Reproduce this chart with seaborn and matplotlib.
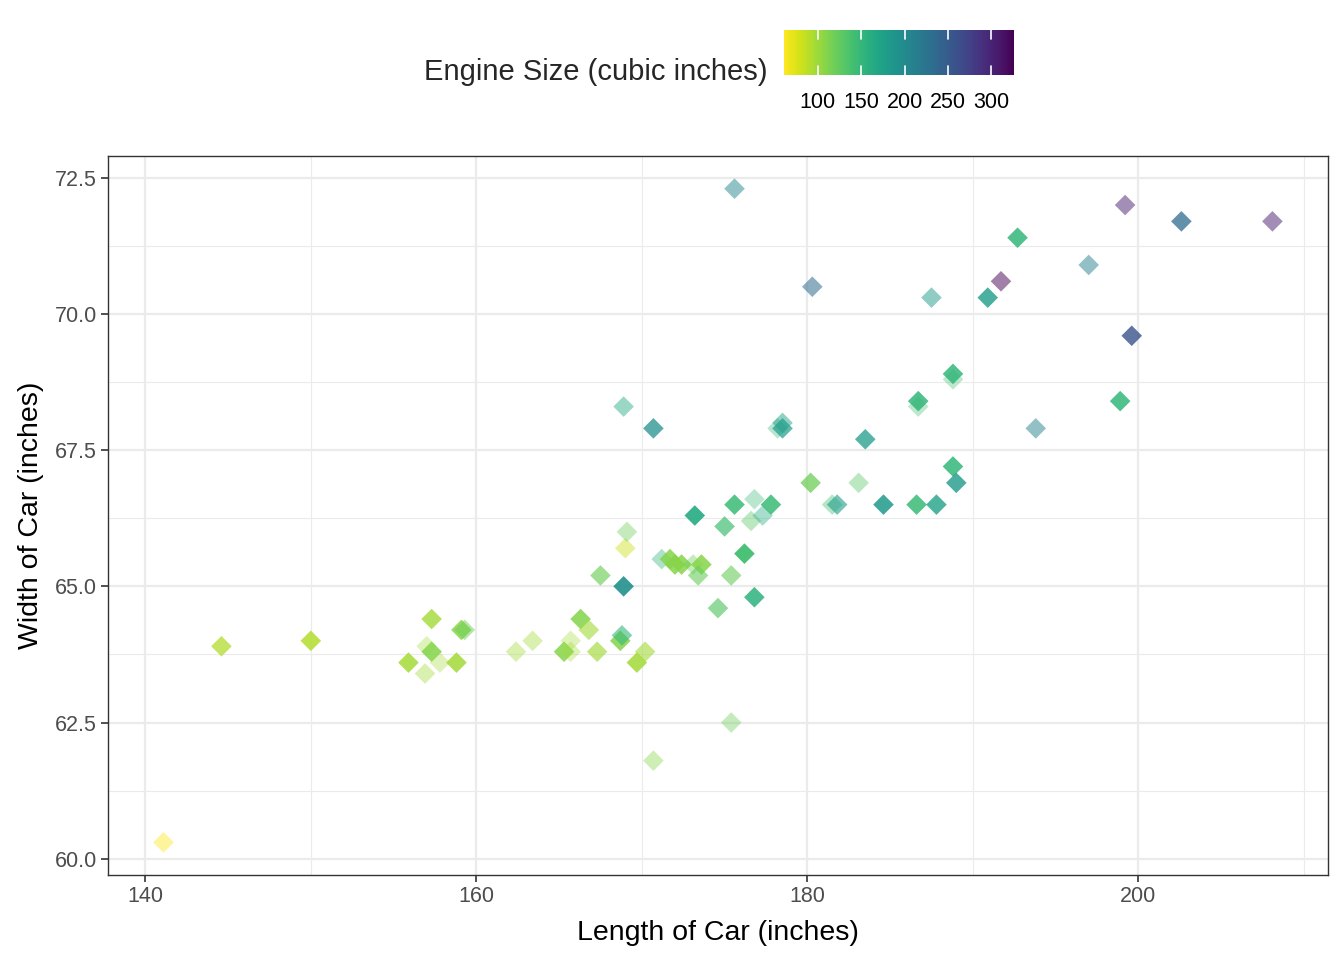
import numpy as np
import pandas as pd
import matplotlib
matplotlib.use("Agg")
import matplotlib.pyplot as plt
import seaborn as sns
from matplotlib.colors import Normalize
from matplotlib.cm import ScalarMappable

# values
length = [141.1, 144.6, 150.0, 155.9, 156.9, 157.0, 157.3, 157.3, 157.8, 158.8,
          159.1, 159.3, 162.4, 163.4, 165.3, 165.7, 165.7, 166.3, 166.8, 167.3,
          167.5, 168.7, 168.8, 168.9, 168.9, 169.0, 169.1, 169.7, 170.2, 170.7,
          170.7, 171.2, 171.7, 172.0, 172.4, 173.1, 173.6, 173.2, 173.4, 174.6,
          175.0, 175.4, 175.4, 175.6, 175.6, 176.2, 176.6, 176.8, 176.8, 177.3,
          177.8, 178.2, 178.5, 178.5, 180.2, 180.3, 181.5, 181.8, 183.1, 183.5,
          184.6, 186.6, 186.7, 186.7, 187.5, 187.8, 188.8, 188.8, 188.8, 189.0,
          190.9, 191.7, 192.7, 193.8, 197.0, 198.9, 199.2, 199.6, 202.6, 208.1]
width = [60.3, 63.9, 64.0, 63.6, 63.4, 63.9, 64.4, 63.8, 63.6, 63.6,
         64.2, 64.2, 63.8, 64.0, 63.8, 64.0, 63.8, 64.4, 64.2, 63.8,
         65.2, 64.0, 64.1, 65.0, 68.3, 65.7, 66.0, 63.6, 63.8, 67.9,
         61.8, 65.5, 65.5, 65.4, 65.4, 65.4, 65.4, 66.3, 65.2, 64.6,
         66.1, 65.2, 62.5, 72.3, 66.5, 65.6, 66.2, 66.6, 64.8, 66.3,
         66.5, 67.9, 68.0, 67.9, 66.9, 70.5, 66.5, 66.5, 66.9, 67.7,
         66.5, 66.5, 68.3, 68.4, 70.3, 66.5, 68.8, 68.9, 67.2, 66.9,
         70.3, 70.6, 71.4, 67.9, 70.9, 68.4, 72.0, 69.6, 71.7, 71.7]
engine = [61, 92, 92, 97, 98, 98, 98, 110, 98, 98,
          108, 120, 98, 98, 109, 98, 98, 110, 98, 98,
          120, 110, 150, 194, 167, 80, 120, 98, 98, 193,
          108, 152, 109, 109, 109, 120, 109, 164, 122, 130,
          141, 122, 120, 203, 146, 141, 130, 146, 156, 164,
          146, 152, 171, 181, 120, 234, 141, 181, 130, 180,
          183, 146, 141, 152, 183, 173, 141, 152, 152, 183,
          180, 326, 152, 209, 209, 152, 304, 258, 234, 308]
# transparency level of each point as shown
alpha_vals = [0.45, 0.75, 0.85, 0.85, 0.4, 0.35, 0.8, 0.85, 0.35, 0.85,
              0.85, 0.5, 0.4, 0.4, 0.85, 0.35, 0.35, 0.85, 0.6, 0.65,
              0.65, 0.85, 0.6, 0.9, 0.45, 0.45, 0.4, 0.85, 0.6, 0.75,
              0.4, 0.4, 0.85, 0.85, 0.85, 0.4, 0.85, 0.9, 0.6, 0.65,
              0.7, 0.6, 0.4, 0.5, 0.85, 0.95, 0.4, 0.35, 0.85, 0.4,
              0.85, 0.35, 0.5, 0.7, 0.75, 0.55, 0.4, 0.6, 0.4, 0.75,
              0.85, 0.85, 0.35, 0.85, 0.5, 0.8, 0.35, 0.85, 0.85, 0.8,
              0.8, 0.5, 0.85, 0.5, 0.5, 0.85, 0.5, 0.8, 0.75, 0.5]
cbar_ticks = [100, 150, 200, 250, 300]

df = pd.DataFrame({"length": length, "width": width, "engine": engine})

sns.set_theme(style="whitegrid")
plt.rcParams["font.family"] = ["Liberation Sans", "DejaVu Sans"]

fig = plt.figure(figsize=(13.44, 9.6), dpi=100)
ax = fig.add_axes([0.0804, 0.0885, 0.9076, 0.749])

norm = Normalize(61, 326)
sns.scatterplot(data=df, x="length", y="width", hue="engine", palette="viridis_r",
                hue_norm=norm, marker="D", s=110, linewidth=0, legend=False, ax=ax)
ax.collections[0].set_alpha(np.array(alpha_vals))

ax.set_xlim(137.75, 211.45)
ax.set_ylim(59.7, 72.9)
ax.set_xticks([140, 160, 180, 200])
ax.set_yticks([60.0, 62.5, 65.0, 67.5, 70.0, 72.5])
ax.set_yticklabels(["60.0", "62.5", "65.0", "67.5", "70.0", "72.5"])
ax.set_xticks([150, 170, 190, 210], minor=True)
ax.set_yticks([61.25, 63.75, 66.25, 68.75, 71.25], minor=True)
ax.grid(which="major", color="#ebebeb", linewidth=1.6)
ax.grid(which="minor", color="#ebebeb", linewidth=0.8)
ax.set_axisbelow(True)
for sp in ax.spines.values():
    sp.set_color("#333333")
    sp.set_linewidth(1.0)
ax.tick_params(which="major", direction="out", length=5, width=1.2, color="#333333",
               labelsize=15.5, labelcolor="#4d4d4d", bottom=True, left=True, pad=3)
ax.tick_params(which="minor", length=0)
ax.set_xlabel("Length of Car (inches)", fontsize=20.5, labelpad=9, color="black")
ax.set_ylabel("Width of Car (inches)", fontsize=20.5, labelpad=8, color="black")

# colour bar legend on top
cax = fig.add_axes([0.5833, 0.9219, 0.1711, 0.0469])
cb = fig.colorbar(ScalarMappable(norm=norm, cmap="viridis_r"), cax=cax, orientation="horizontal")
cb.outline.set_visible(False)
cb.set_ticks(cbar_ticks)
cax.tick_params(axis="x", length=0, labelsize=15.5, labelcolor="black", pad=12)
for t in cbar_ticks:
    cax.axvline(t, ymin=0, ymax=0.2, color="white", linewidth=1.2)
    cax.axvline(t, ymin=0.8, ymax=1, color="white", linewidth=1.2)
fig.text(0.5714, 0.925, "Engine Size (cubic inches)", fontsize=21, ha="right", va="center")

fig.savefig("out.png", dpi=100)
